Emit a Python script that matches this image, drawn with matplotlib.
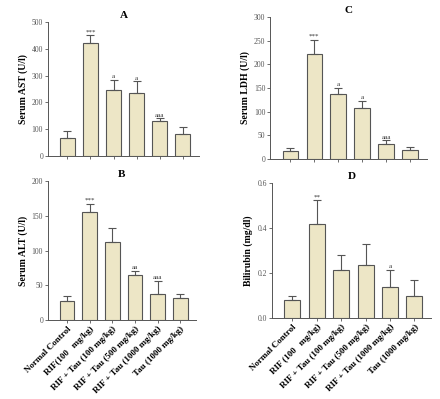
import matplotlib
matplotlib.use('Agg')
import matplotlib.pyplot as plt

plt.rcParams['font.family'] = 'Liberation Serif'

groups = ['Normal Control', 'RIF(100   mg/kg)', 'RIF + Tau (100 mg/kg)',
          'RIF + Tau (500 mg/kg)', 'RIF + Tau (1000 mg/kg)', 'Tau (1000 mg/kg)']
groups_d = ['Normal Control', 'RIF (100   mg/kg)', 'RIF + Tau (100 mg/kg)',
            'RIF + Tau (500 mg/kg)', 'RIF + Tau (1000 mg/kg)', 'Tau (1000 mg/kg)']

ast = [68, 420, 246, 236, 129, 82]
ast_err = [24, 30, 37, 42, 12, 26]
ast_sig = ['', '***', 'a', 'a', 'aaa', '']

ldh = [15.5, 223, 138, 107, 32, 18]
ldh_err = [7, 29, 12, 16, 7, 8]
ldh_sig = ['', '***', 'a', 'a', 'aaa', '']

alt = [28, 155.5, 112, 65.5, 37, 31]
alt_err = [6, 12, 21, 5.5, 19, 7]
alt_sig = ['', '***', '', 'aa', 'aaa', '']

bili = [0.078, 0.42, 0.213, 0.238, 0.139, 0.100]
bili_err = [0.018, 0.104, 0.068, 0.091, 0.075, 0.071]
bili_sig = ['', '**', '', '', 'a', '']

fig = plt.figure(figsize=(4.4, 3.99), dpi=100)

panels = [
    ([0.109, 0.609, 0.343, 0.336], ast, ast_err, ast_sig, 'A', 'Serum AST (U/l)', (0, 500), [0, 100, 200, 300, 400, 500], None, '%d'),
    ([0.614, 0.602, 0.356, 0.355], ldh, ldh_err, ldh_sig, 'C', 'Serum LDH (U/l)', (0, 300), [0, 50, 100, 150, 200, 250, 300], None, '%d'),
    ([0.109, 0.198, 0.336, 0.348], alt, alt_err, alt_sig, 'B', 'Serum ALT (U/l)', (0, 200), [0, 50, 100, 150, 200], groups, '%d'),
    ([0.618, 0.203, 0.362, 0.338], bili, bili_err, bili_sig, 'D', 'Bilirubin (mg/dl)', (0, 0.6), [0.0, 0.2, 0.4, 0.6], groups_d, '%.1f'),
]

x = range(len(groups))
for rect, vals, errs, sig, title, ylab, ylim, yt, xl, fmt in panels:
    ax = fig.add_axes(rect)
    ax.bar(x, vals, width=0.65, color='#ede6c6', edgecolor='#555555', linewidth=0.8,
           yerr=[[0] * len(errs), errs], error_kw=dict(ecolor='#555555', elinewidth=0.8, capsize=3, capthick=0.8))
    span = ylim[1] - ylim[0]
    for i, s in enumerate(sig):
        if s:
            ax.text(i, vals[i] + errs[i] + span * 0.005, s, ha='center', va='bottom', fontsize=5, color='#333333')
    ax.set_ylim(*ylim)
    ax.set_xlim(-0.84, 5.69)
    ax.set_yticks(yt)
    ax.set_yticklabels([fmt % v for v in yt], fontsize=5.5, color='#444444')
    ax.set_xticks(list(x))
    if xl:
        ax.set_xticklabels(xl, rotation=45, ha='right', rotation_mode='anchor', fontsize=6.5, fontweight='bold')
    else:
        ax.set_xticklabels([])
    ax.tick_params(axis='both', length=2, width=0.6, colors='#555555', pad=1.5)
    ax.tick_params(axis='x', labelcolor='black')
    ax.set_ylabel(ylab, fontsize=7, fontweight='bold', labelpad=3)
    ax.set_title(title, fontsize=8, fontweight='bold', pad=3)
    for side in ['top', 'right']:
        ax.spines[side].set_visible(False)
    for side in ['left', 'bottom']:
        ax.spines[side].set_linewidth(0.7)
        ax.spines[side].set_color('#555555')

fig.savefig('out.png', dpi=100)
